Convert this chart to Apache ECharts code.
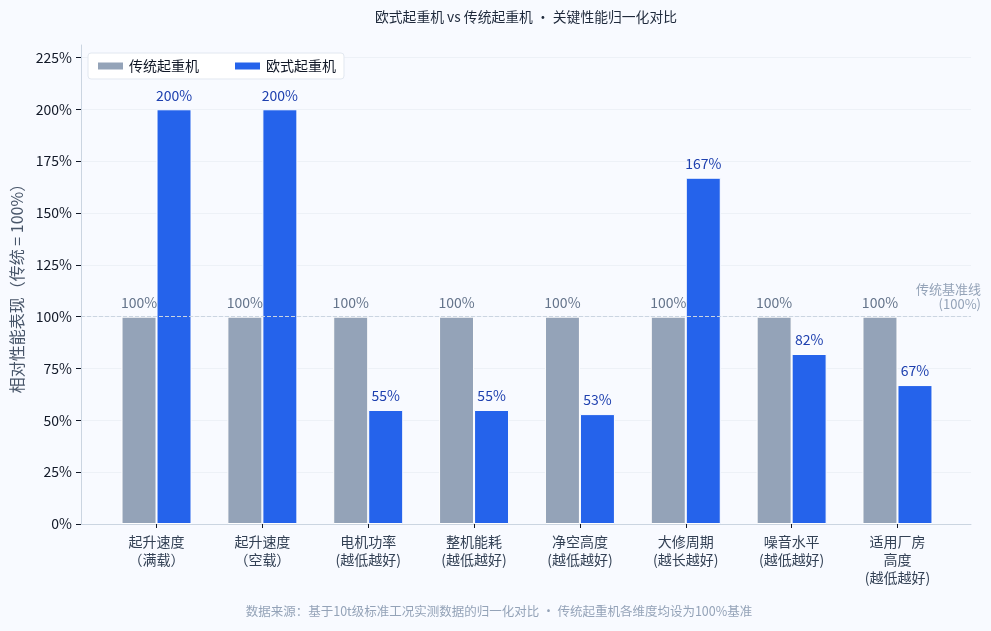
<!DOCTYPE html>
<html>
<head>
<meta charset="utf-8">
<script src="https://cdn.jsdelivr.net/npm/echarts@6/dist/echarts.min.js"></script>
<style>
  html, body { margin: 0; padding: 0; background: #f8faff; }
  #chart { width: 991px; height: 631px; }
</style>
</head>
<body>
<div id="chart"></div>
<script>
// 维度（x轴类目）
const categories = [
  '起升速度\n（满载）',
  '起升速度\n（空载）',
  '电机功率\n(越低越好)',
  '整机能耗\n(越低越好)',
  '净空高度\n(越低越好)',
  '大修周期\n(越长越好)',
  '噪音水平\n(越低越好)',
  '适用厂房\n高度\n(越低越好)'
]
// 传统起重机 = 100% 基准
const traditional = [100, 100, 100, 100, 100, 100, 100, 100]
// 欧式起重机 归一化值
const european = [200, 200, 55, 55, 53, 167, 82, 67]
// y轴刻度
const yTicks = [0, 25, 50, 75, 100, 125, 150, 175, 200, 225]
// 基准线
const baseline = 100

const chart = echarts.init(document.getElementById('chart'))

const font = "'Noto Sans CJK SC', 'Noto Sans', sans-serif"

// grid 0 画坐标框（y轴、x轴线、基准线），grid 1 放柱子（两侧留白）
chart.setOption({
  backgroundColor: '#f8faff',
  textStyle: { fontFamily: font },
  legend: {
    data: ['传统起重机', '欧式起重机'],
    left: 88,
    top: 53,
    icon: 'rect',
    itemWidth: 27,
    itemHeight: 9,
    itemGap: 34,
    padding: [6, 8],
    backgroundColor: '#ffffff',
    borderColor: '#e2e8f0',
    borderWidth: 1,
    borderRadius: 3,
    textStyle: { fontSize: 14, color: '#111827', fontFamily: font }
  },
  grid: [
    { left: 81, right: 20, top: 45, bottom: 107 },
    { left: 103.6, right: 40.6, top: 45, bottom: 107 }
  ],
  xAxis: [
    {
      type: 'value',
      gridIndex: 0,
      min: 0,
      max: 1,
      axisLine: { show: true, onZero: false, lineStyle: { color: '#cbd5e1' } },
      axisTick: { show: false },
      axisLabel: { show: false },
      splitLine: { show: false }
    },
    {
      type: 'category',
      gridIndex: 1,
      data: categories,
      axisLine: { show: false },
      axisTick: { show: true, alignWithLabel: true, length: 4, lineStyle: { color: '#111827' } },
      axisLabel: { fontSize: 14, color: '#334155', lineHeight: 18, margin: 9, interval: 0 }
    }
  ],
  yAxis: [
    {
      type: 'value',
      gridIndex: 0,
      min: 0,
      max: 231,
      name: '相对性能表现（传统 = 100%）',
      nameLocation: 'middle',
      nameGap: 55,
      nameTextStyle: { fontSize: 16, color: '#475569', fontFamily: font },
      axisLine: { show: true, lineStyle: { color: '#cbd5e1' } },
      axisTick: { show: true, length: 5, customValues: yTicks, lineStyle: { color: '#111827' } },
      axisLabel: {
        fontSize: 14,
        color: '#111827',
        margin: 9,
        customValues: yTicks,
        formatter: '{value}%'
      },
      splitLine: { lineStyle: { color: '#edf1f7' } }
    },
    {
      type: 'value',
      gridIndex: 1,
      min: 0,
      max: 231,
      show: false,
      splitLine: { show: false }
    }
  ],
  series: [
    {
      name: '基准线',
      type: 'line',
      xAxisIndex: 0,
      yAxisIndex: 0,
      data: [],
      silent: true,
      markLine: {
        silent: true,
        symbol: 'none',
        data: [{ yAxis: baseline }],
        lineStyle: { type: 'dashed', color: '#cbd5e1', width: 1 },
        label: {
          position: 'end',
          formatter: '传统基准线\n(100%)',
          align: 'right',
          offset: [10, -5],
          distance: 0,
          verticalAlign: 'bottom',
          fontSize: 13,
          lineHeight: 15,
          color: '#94a3b8'
        }
      }
    },
    {
      name: '传统起重机',
      type: 'bar',
      xAxisIndex: 1,
      yAxisIndex: 1,
      data: traditional,
      barWidth: 35,
      barGap: '0%',
      itemStyle: { color: '#94a3b8', borderColor: '#ffffff', borderWidth: 1 },
      label: {
        show: true,
        position: 'top',
        distance: 7,
        formatter: '{c}%',
        fontSize: 14,
        color: '#64748b'
      }
    },
    {
      name: '欧式起重机',
      type: 'bar',
      xAxisIndex: 1,
      yAxisIndex: 1,
      data: european,
      barWidth: 35,
      itemStyle: { color: '#2563eb', borderColor: '#ffffff', borderWidth: 1 },
      label: {
        show: true,
        position: 'top',
        distance: 7,
        formatter: '{c}%',
        fontSize: 14,
        color: '#1e40af'
      }
    }
  ],
  graphic: [
    {
      type: 'text',
      x: 526,
      y: 10,
      style: {
        text: '欧式起重机 vs 传统起重机 · 关键性能归一化对比',
        align: 'center',
        fontSize: 13.8,
        fill: '#1e293b',
        fontFamily: font
      }
    },
    {
      type: 'text',
      x: 499,
      y: 605,
      style: {
        text: '数据来源：基于10t级标准工况实测数据的归一化对比 · 传统起重机各维度均设为100%基准',
        align: 'center',
        fontSize: 12.5,
        fill: '#94a3b8',
        fontFamily: font
      }
    }
  ]
})
</script>
</body>
</html>
